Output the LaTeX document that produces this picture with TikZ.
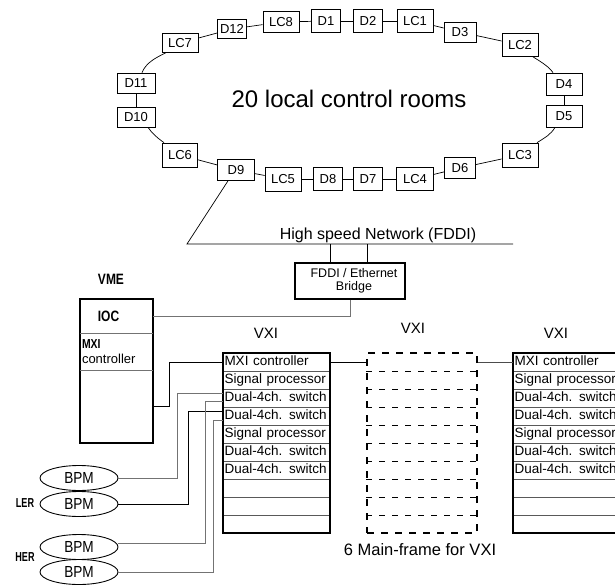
\documentclass[tikz,border=0pt]{standalone}
\usepackage{fontspec}
\setmainfont{Liberation Sans}
\usetikzlibrary{shapes.geometric}
\newcommand{\myfs}[1]{\fontsize{#1}{#1}\selectfont}
\begin{document}
\begin{tikzpicture}[x=1pt,y=-1pt,
  ring/.style={draw, line width=0.7pt, inner sep=0pt, font=\myfs{13}, minimum height=21pt, minimum width=36pt},
  link/.style={line width=0.7pt},
  thinl/.style={line width=0.5pt, black!55},
  frame/.style={draw, line width=1.8pt, inner sep=0pt},
  rowbox/.style={draw=black!65, line width=0.5pt, minimum height=18pt, inner sep=1.5pt, text width=104pt, align=left, font=\myfs{13.5}, text height=9.8pt, text depth=2.8pt},
  rowboxr/.style={rowbox, text width=109pt},
  dline/.style={line width=0.9pt, dash pattern=on 6pt off 7pt},
  bpm/.style={ellipse, draw, line width=0.9pt, minimum width=78pt, minimum height=25pt, inner sep=0pt, font=\myfs{16}},
  cond/.style={font=\myfs{15}}
]
\useasboundingbox (0,0) rectangle (615,588);
\clip (0,0) rectangle (615,588);

% ring of local control rooms
\node[ring] (LC8) at (281,22) {LC8};
\node[ring, minimum width=29pt, minimum height=23pt] (D1) at (326,21) {D1};
\node[ring, minimum width=29pt, minimum height=23pt] (D2) at (368,21) {D2};
\node[ring, minimum height=23pt] (LC1) at (415,21) {LC1};
\node[ring, minimum width=32pt, minimum height=20pt] (D3) at (460,32) {D3};
\node[ring, minimum height=23pt] (LC2) at (520,45) {LC2};
\node[ring, minimum height=22pt] (D4) at (564,84) {D4};
\node[ring, minimum height=22pt] (D5) at (564,116) {D5};
\node[ring, minimum height=24pt] (LC3) at (520,155) {LC3};
\node[ring, minimum width=31pt] (D6) at (460,168) {D6};
\node[ring, minimum width=37pt, minimum height=23pt] (LC4) at (415,179) {LC4};
\node[ring, minimum width=29pt, minimum height=23pt] (D7) at (368,179) {D7};
\node[ring, minimum width=29pt, minimum height=23pt] (D8) at (328,179) {D8};
\node[ring, minimum height=24pt] (LC5) at (283,179) {LC5};
\node[ring, minimum width=37pt] (D9) at (236,170) {D9};
\node[ring, minimum width=35pt, minimum height=24pt] (LC6) at (180,155) {LC6};
\node[ring, minimum width=38pt, minimum height=20pt] (D10) at (136,117) {D10};
\node[ring, minimum width=38pt, minimum height=20pt] (D11) at (136,83) {D11};
\node[ring, minimum height=19pt] (LC7) at (180,43) {LC7};
\node[ring, minimum width=29pt, minimum height=19pt] (D12) at (232,29) {D12};

\draw[link] (LC7) -- (D12);
\draw[link] (D12) -- (LC8);
\draw[link] (LC8) -- (D1);
\draw[link] (D1) -- (D2);
\draw[link] (D2) -- (LC1);
\draw[link] (LC1) -- (D3);
\draw[link] (D3) -- (LC2);
\draw[link] ([xshift=13pt]LC2.south) .. controls +(8,5) and +(-4,-6) .. ([xshift=-11pt]D4.north);
\draw[link] (D4) -- (D5);
\draw[link] ([xshift=-9pt]D5.south) .. controls +(-4,7) and +(8,-5) .. ([xshift=17pt]LC3.north);
\draw[link] (LC3) -- (D6);
\draw[link] (D6) -- (LC4);
\draw[link] (LC4) -- (D7);
\draw[link] (D7) -- (D8);
\draw[link] (D8) -- (LC5);
\draw[link] (LC5) -- (D9);
\draw[link] (D9) -- (LC6);
\draw[link] ([xshift=-16pt]LC6.north) .. controls +(-7,-5) and +(4,6) .. ([xshift=12pt]D10.south);
\draw[link] (D10) -- (D11);
\draw[link] ([xshift=6pt]D11.north) .. controls +(4,-10) and +(-10,5) .. ([xshift=4pt]LC7.south west);

\node[font=\myfs{24}, anchor=base] (title) at (349,108) {20 local control rooms};

% network
\coordinate (netL) at (187,244);
\coordinate (netR) at (513,244);
\draw[link] ([xshift=-8pt]D9.south) -- (netL) -- (netR);
\node[anchor=base, font=\myfs{16}] (netlbl) at (378,239) {High speed Network (FDDI)};

\node[frame, minimum width=110pt, minimum height=36pt, align=center, font={\fontsize{12.5}{13.5}\selectfont}] (bridge) at (350,281) {\hspace*{8pt}FDDI / Ethernet\\\hspace*{8pt}Bridge};
\draw[link] ([xshift=-20pt]bridge.north) -- ([xshift=-20pt]bridge.north |- netL);
\draw[link] ([xshift=17pt]bridge.north) -- ([xshift=17pt]bridge.north |- netL);

% VME
\node[cond] (vmelbl) at (111,279) {\textbf{\scalebox{0.8}[1]{VME}}};
\node[frame, minimum width=73pt, minimum height=144pt] (vme) at (116.5,371) {};
\node[inner sep=0pt, minimum width=73pt, minimum height=34pt, cond] (ioc) at (116.5,316) {\textbf{\scalebox{0.8}[1]{IOC}}\hspace*{16pt}};
\node[inner sep=2pt, minimum width=73pt, minimum height=37pt, text width=69pt, align=left, font={\fontsize{13}{15}\selectfont}] (vmxi) at (116.5,351.5) {\textbf{\scalebox{0.8}[1]{MXI}}\\controller};
\draw[thinl] (ioc.south west) -- (ioc.south east);
\draw[thinl] (vmxi.south west) -- (vmxi.south east);
\draw[thinl] (bridge.south) |- (ioc.east);

% VXI labels
\node[font=\myfs{15}] (vxil1) at (266,333) {VXI};
\node[font=\myfs{15}] (vxil2) at (413,328) {VXI};
\node[font=\myfs{15}] (vxil3) at (556,333) {VXI};

% VXI frame 1
\node[rowbox] (v1r1) at (276.5,362) {MXI controller};
\node[rowbox] (v1r2) at (276.5,380) {Signal processor};
\node[rowbox] (v1r3) at (276.5,398) {Dual-4ch. switch};
\node[rowbox] (v1r4) at (276.5,416) {Dual-4ch. switch};
\node[rowbox] (v1r5) at (276.5,434) {Signal processor};
\node[rowbox] (v1r6) at (276.5,452) {Dual-4ch. switch};
\node[rowbox] (v1r7) at (276.5,470) {Dual-4ch. switch};
\node[rowbox] (v1r8) at (276.5,488) {};
\node[rowbox] (v1r9) at (276.5,506) {};
\node[rowbox] (v1r10) at (276.5,524) {};
\node[frame, minimum width=107pt, minimum height=180pt] (vxi1) at (276.5,443) {};

% VXI frame 2 (dashed)
\node[draw, line width=1.6pt, dash pattern=on 7pt off 7pt, minimum width=110pt, minimum height=180pt, inner sep=0pt] (vxi2) at (422,443) {};
\foreach \r in {1,...,9} {
  \draw[dline] (vxi2.west |- v1r\r.south) -- (vxi2.east |- v1r\r.south);
}

% VXI frame 3
\node[rowboxr] (v3r1) at (569,362) {MXI controller};
\node[rowboxr] (v3r2) at (569,380) {Signal processor};
\node[rowboxr] (v3r3) at (569,398) {Dual-4ch. switch};
\node[rowboxr] (v3r4) at (569,416) {Dual-4ch. switch};
\node[rowboxr] (v3r5) at (569,434) {Signal processor};
\node[rowboxr] (v3r6) at (569,452) {Dual-4ch. switch};
\node[rowboxr] (v3r7) at (569,470) {Dual-4ch. switch};
\node[rowboxr] (v3r8) at (569,488) {};
\node[rowboxr] (v3r9) at (569,506) {};
\node[rowboxr] (v3r10) at (569,524) {};
\node[frame, minimum width=112pt, minimum height=180pt] (vxi3) at (569,443) {};

% MXI chain
\draw[link] (vxi1.east |- v1r1.east) -- (vxi2.west |- v1r1.east);
\draw[thinl, black!70] (vxi2.east |- v3r1.west) -- (v3r1.west);
\draw[link] ([yshift=-35pt]vme.east) -| (169,362) -- (v1r1.west);

% BPMs
\node[bpm] (bpm1) at (79,478) {\scalebox{0.85}[1]{BPM}};
\node[bpm] (bpm2) at (79,504) {\scalebox{0.85}[1]{BPM}};
\node[bpm] (bpm3) at (79,547) {\scalebox{0.85}[1]{BPM}};
\node[bpm] (bpm4) at (79,572) {\scalebox{0.85}[1]{BPM}};
\node[font=\myfs{13}] (ler) at (25,503) {\textbf{\scalebox{0.7}[1]{LER}}};
\node[font=\myfs{13}] (her) at (25,557) {\textbf{\scalebox{0.7}[1]{HER}}};

\draw[thinl] (bpm1.east) -| (177,393) -- ([yshift=5pt]v1r3.west);
\draw[link] (bpm2.east) -| (188,411) -- ([yshift=5pt]v1r4.west);
\draw[thinl] ([yshift=4pt]bpm3.east) -| (205,401) -- ([yshift=-3pt]v1r3.west);
\draw[thinl] (bpm4.east) -| (213,420) -- ([yshift=-4pt]v1r4.west);

\node[anchor=base, font=\myfs{16.5}] (mainlbl) at (420,555) {6 Main-frame for VXI};
\end{tikzpicture}
\end{document}
